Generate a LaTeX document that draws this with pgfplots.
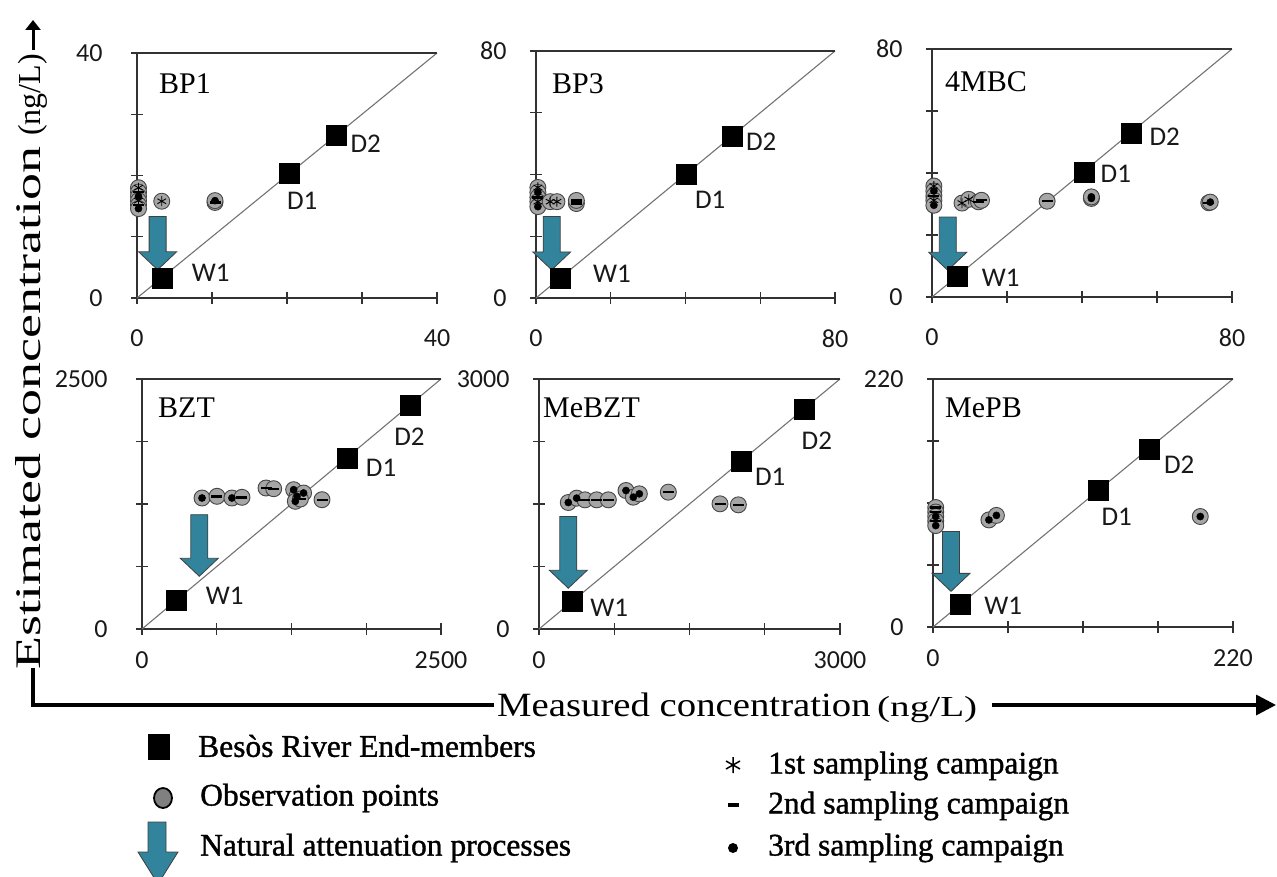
\documentclass[border=0pt]{standalone}
\usepackage{pgfplots}
\pgfplotsset{compat=1.18}
\usepackage{pgfplotstable}
\usepackage{graphicx}
\usepackage{fontspec}
\setmainfont{Liberation Serif}
\newfontfamily\calibri{Carlito}
\newfontfamily\legfont{Liberation Serif}[FakeBold=1.2]
\usetikzlibrary{calc,arrows.meta}

\definecolor{arrowc}{RGB}{49,132,155}
\definecolor{obsfill}{RGB}{166,166,166}
\definecolor{obsedge}{RGB}{70,70,70}
\definecolor{axc}{RGB}{50,50,50}

% observation points: x y campaign
\pgfplotstableread{
x y c
0.2 18.0 1
0.2 17.3 2
0.2 16.6 3
0.2 15.9 1
0.2 15.2 2
0.2 14.6 3
3.3 15.8 1
10.4 15.6 2
10.4 15.9 3
}\obsBPone
\pgfplotstableread{
x y c
0.5 35.8 1
0.5 34.2 3
0.5 32.6 2
0.5 31.2 1
0.5 29.6 3
3.8 31.2 1
5.6 31.2 1
10.8 30.6 2
10.8 31.6 2
}\obsBPthree
\pgfplotstableread{
x y c
0.5 35.8 1
0.5 34.2 3
0.5 32.6 2
0.5 31.2 1
0.5 29.6 3
8.0 30.3 1
9.8 31.5 1
12.4 30.7 2
13.2 31.2 2
30.7 30.9 2
42.5 31.8 3
42.5 32.3 3
73.8 30.4 2
74.2 30.6 3
}\obsMBC
\pgfplotstableread{
x y c
502 1310 3
627 1327 2
752 1310 3
836 1317 2
1037 1410 2
1101 1403 2
1268 1393 3
1296 1327 3
1282 1277 3
1351 1360 3
1324 1300 2
1505 1293 2
}\obsBZT
\pgfplotstableread{
x y c
292 1518 3
375 1570 3
458 1550 2
575 1550 2
691 1550 2
867 1662 3
940 1582 3
1000 1622 3
1289 1642 2
1804 1502 2
1987 1490 2
}\obsMeBZT
\pgfplotstableread{
x y c
2 106 2
2 102 2
2 98 3
2 94 2
2 90 3
41 95 3
46.5 99 3
196 98 3
}\obsMePB

\newcommand\attarrow[3]{%
 \filldraw[fill=arrowc, draw=black!75, line width=0.8pt, line join=miter]
 ($(axis cs:#1,#2)+(-8.5pt,0pt)$) -- ($(axis cs:#1,#3)+(-8.5pt,18pt)$) --
 ($(axis cs:#1,#3)+(-19pt,18pt)$) -- (axis cs:#1,#3) --
 ($(axis cs:#1,#3)+(19pt,18pt)$) -- ($(axis cs:#1,#3)+(8.5pt,18pt)$) --
 ($(axis cs:#1,#2)+(8.5pt,0pt)$) -- cycle;}

\pgfplotsset{
 panel/.style={scale only axis, xmin=0, ymin=0,
  axis x line*=bottom, axis y line*=left,
  axis line style={axc, line width=1.3pt},
  tick align=center, major tick length=12pt,
  tick style={axc, line width=1.3pt},
  clip=false,
  ticklabel style={font=\calibri\fontsize{26}{26}\selectfont, text=black!90},
  /pgf/number format/assume math mode=true,
  after end axis/.code={\draw[axc,line width=1.3pt] (rel axis cs:0,1) -- (rel axis cs:1,1);}},
 toprow/.style={xticklabel style={yshift=-22pt}},
 botrow/.style={xticklabel style={yshift=-13pt}},
 leftcol/.style={yticklabel style={xshift=-25pt}},
 othercol/.style={yticklabel style={xshift=-20pt}},
 diag/.style={black!55, line width=1.1pt},
 endm/.style={only marks, mark=square*, mark size=10pt, mark options={fill=black, draw=black}},
 obs/.style={only marks, mark=*, mark size=8pt, mark options={fill=obsfill, draw=obsedge, line width=0.9pt}},
 camp/.style={only marks, scatter, scatter src=explicit symbolic,
  scatter/classes={1={mark=asterisk, mark size=5pt, black, line width=0.9pt},
                   2={mark=-, mark size=5.5pt, black, line width=2.4pt},
                   3={mark=*, mark size=3.6pt, black}}},
}
\tikzset{
 lab/.style={font=\calibri\fontsize{27}{27}\selectfont, text=black!90, inner sep=0pt},
 ttl/.style={font=\fontsize{30}{30}\selectfont, anchor=base west, inner sep=0pt},
 legt/.style={font=\legfont\fontsize{31.5}{31.5}\selectfont, anchor=west, inner sep=0pt},
}

\begin{document}
\begin{tikzpicture}
\path[use as bounding box] (0pt,0pt) rectangle (1277pt,-877pt);

% ---------- BP1
\begin{axis}[panel, toprow, leftcol, at={(137pt,-298pt)}, anchor=south west, width=300pt, height=245pt,
 xmax=40, ymax=40, xtick={0,10,20,30,40}, ytick={0,10,20,30,40},
 xticklabels={0,,,,40}, yticklabels={0,,,,40}]
\addplot[diag] coordinates {(0,0) (40,40)};
\addplot[obs] table {\obsBPone};
\addplot[camp] table[meta=c] {\obsBPone};
\addplot[endm] coordinates {(3.3,3.3) (20.3,20.3) (26.5,26.5)};
\attarrow{2.75}{13.3}{4.6}
\node[ttl] at ([xshift=22pt,yshift=-40pt]rel axis cs:0,1) {BP1};
\node[lab, xshift=49pt, yshift=5pt] at (axis cs:3.3,3.3) {W1};
\node[lab, xshift=13pt, yshift=-27pt] at (axis cs:20.3,20.3) {D1};
\node[lab, xshift=30pt, yshift=-8pt] at (axis cs:26.5,26.5) {D2};
\end{axis}

% ---------- BP3
\begin{axis}[panel, toprow, othercol, at={(536pt,-298pt)}, anchor=south west, width=299pt, height=247pt,
 xmax=80, ymax=80, xtick={0,20,40,60,80}, ytick={0,20,40,60,80},
 xticklabels={0,,,,80}, yticklabels={0,,,,80}]
\addplot[diag] coordinates {(0,0) (80,80)};
\addplot[obs] table {\obsBPthree};
\addplot[camp] table[meta=c] {\obsBPthree};
\addplot[endm] coordinates {(6.4,6.4) (40.2,40.2) (52.5,52.5)};
\attarrow{4.2}{26.4}{9.1}
\node[ttl] at ([xshift=16pt,yshift=-42pt]rel axis cs:0,1) {BP3};
\node[lab, xshift=52pt, yshift=4pt] at (axis cs:6.4,6.4) {W1};
\node[lab, xshift=24pt, yshift=-26pt] at (axis cs:40.2,40.2) {D1};
\node[lab, xshift=29pt, yshift=-6pt] at (axis cs:52.5,52.5) {D2};
\end{axis}

% ---------- 4MBC
\begin{axis}[panel, toprow, othercol, at={(932pt,-297pt)}, anchor=south west, width=300pt, height=248pt,
 xmax=80, ymax=80, xtick={0,20,40,60,80}, ytick={0,20,40,60,80},
 xticklabels={0,,,,80}, yticklabels={0,,,,80}]
\addplot[diag] coordinates {(0,0) (80,80)};
\addplot[obs] table {\obsMBC};
\addplot[camp] table[meta=c] {\obsMBC};
\addplot[endm] coordinates {(6.6,6.6) (40.5,40.3) (53,52.7)};
\attarrow{4.2}{25.8}{8.6}
\node[ttl] at ([xshift=13pt,yshift=-43pt]rel axis cs:0,1) {4MBC};
\node[lab, xshift=44pt, yshift=-1pt] at (axis cs:6.6,6.6) {W1};
\node[lab, xshift=32pt, yshift=-2pt] at (axis cs:40.5,40.3) {D1};
\node[lab, xshift=34pt, yshift=-3pt] at (axis cs:53,52.7) {D2};
\end{axis}

% ---------- BZT
\begin{axis}[panel, botrow, leftcol, at={(142pt,-629pt)}, anchor=south west, width=299pt, height=250pt,
 xmax=2500, ymax=2500, xtick={0,625,1250,1875,2500}, ytick={0,625,1250,1875,2500},
 xticklabels={0,,,,2500}, yticklabels={0,,,,2500}]
\addplot[diag] coordinates {(0,0) (2500,2500)};
\addplot[obs] table {\obsBZT};
\addplot[camp] table[meta=c] {\obsBZT};
\addplot[endm] coordinates {(290,290) (1715,1712) (2245,2240)};
\attarrow{479}{1143}{527}
\node[ttl] at ([xshift=16pt,yshift=-38pt]rel axis cs:0,1) {BZT};
\node[lab, xshift=48pt, yshift=4pt] at (axis cs:290,290) {W1};
\node[lab, xshift=34pt, yshift=-10pt] at (axis cs:1715,1712) {D1};
\node[lab, xshift=-1pt, yshift=-32pt] at (axis cs:2245,2240) {D2};
\end{axis}

% ---------- MeBZT
\begin{axis}[panel, botrow, othercol, at={(539pt,-629pt)}, anchor=south west, width=301pt, height=250pt,
 xmax=3000, ymax=3000, xtick={0,750,1500,2250,3000}, ytick={0,750,1500,2250,3000},
 xticklabels={0,,,,3000}, yticklabels={0,,,,3000}]
\addplot[diag] coordinates {(0,0) (3000,3000)};
\addplot[obs] table {\obsMeBZT};
\addplot[camp] table[meta=c] {\obsMeBZT};
\addplot[endm] coordinates {(330,330) (2015,2012) (2640,2638)};
\attarrow{292}{1350}{489}
\node[ttl] at ([xshift=4pt,yshift=-38pt]rel axis cs:0,1) {MeBZT};
\node[lab, xshift=37pt, yshift=-6pt] at (axis cs:330,330) {W1};
\node[lab, xshift=29pt, yshift=-15pt] at (axis cs:2015,2012) {D1};
\node[lab, xshift=13pt, yshift=-32pt] at (axis cs:2640,2638) {D2};
\end{axis}

% ---------- MePB
\begin{axis}[panel, botrow, othercol, at={(933pt,-627pt)}, anchor=south west, width=300pt, height=248pt,
 xmax=220, ymax=220, xtick={0,55,110,165,220}, ytick={0,55,110,165,220},
 xticklabels={0,,,,220}, yticklabels={0,,,,220}]
\addplot[diag] coordinates {(0,0) (220,220)};
\addplot[obs] table {\obsMePB};
\addplot[camp] table[meta=c] {\obsMePB};
\addplot[endm] coordinates {(20,20) (121.5,121.3) (158.5,158)};
\attarrow{13.2}{84.8}{31.6}
\node[ttl] at ([xshift=12pt,yshift=-38pt]rel axis cs:0,1) {MePB};
\node[lab, xshift=43pt, yshift=-1pt] at (axis cs:20,20) {W1};
\node[lab, xshift=18pt, yshift=-27pt] at (axis cs:121.5,121.3) {D1};
\node[lab, xshift=30pt, yshift=-16pt] at (axis cs:158.5,158) {D2};
\end{axis}

% ---------- global axis labels
\node[rotate=90, anchor=base west, inner sep=0pt] at (40pt,-670pt)
 {\scalebox{1.5}[1]{\fontsize{36}{36}\selectfont Estimated concentration}};
\node[rotate=90, anchor=base west, inner sep=0pt] at (40pt,-136pt)
 {\scalebox{1.0}[1]{\fontsize{32}{32}\selectfont (ng/L)}};
\draw[line width=3pt, -{Triangle[length=10pt,width=15pt]}] (33pt,-50pt) -- (33pt,-20pt);

\draw[line width=3.5pt] (33pt,-668pt) -- (33pt,-705pt) -- (494pt,-705pt);
\node[anchor=base west, inner sep=0pt] at (497pt,-716pt)
 {\scalebox{1.14}[1]{\fontsize{34}{34}\selectfont Measured concentration}};
\node[anchor=base west, inner sep=0pt] at (877pt,-716pt)
 {\scalebox{1.35}[1]{\fontsize{29}{29}\selectfont (ng/L)}};
\draw[line width=3.5pt, -{Triangle[length=20pt,width=20pt]}] (992pt,-705pt) -- (1276pt,-705pt);

% ---------- legend
\fill[black] (148pt,-734pt) rectangle (170pt,-760pt);
\node[legt] at (198pt,-746pt) {Besòs River End-members};
\filldraw[fill=gray, draw=black, line width=1.8pt] (163pt,-798pt) ellipse (9pt and 10pt);
\node[legt] at (200pt,-798pt) {Observation points};
\filldraw[fill=arrowc, draw=black!75, line width=0.8pt]
 (148pt,-822pt) -- (148pt,-852pt) -- (138pt,-852pt) -- (158pt,-884pt) -- (178pt,-852pt) -- (166pt,-852pt) -- (166pt,-822pt) -- cycle;
\node[legt] at (200pt,-848pt) {Natural attenuation processes};

\draw[line width=1.5pt] (733pt,-757pt) -- (733pt,-773pt) (726pt,-761pt) -- (740pt,-769pt) (726pt,-769pt) -- (740pt,-761pt);
\node[legt] at (768pt,-766pt) {1st sampling campaign};
\fill[black] (728pt,-803pt) rectangle (739pt,-807pt);
\node[legt] at (768pt,-806pt) {2nd sampling campaign};
\fill[black] (733pt,-848pt) circle (5pt);
\node[legt] at (768pt,-848pt) {3rd sampling campaign};
\end{tikzpicture}
\end{document}
